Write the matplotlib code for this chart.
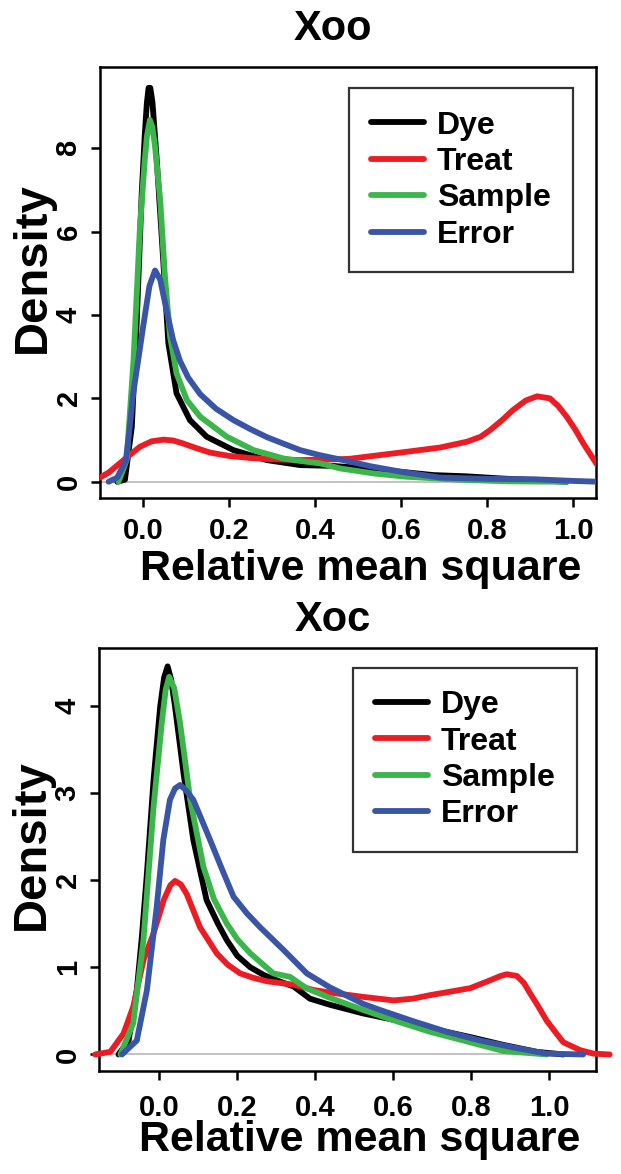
import matplotlib
matplotlib.use("Agg")
import matplotlib.pyplot as plt

plt.rcParams['font.family'] = ['Liberation Sans', 'DejaVu Sans']
plt.rcParams['font.weight'] = 'bold'

# Xoo panel (density curves)
xoo_dye_x = [-0.06, -0.042, -0.026, -0.015, -0.003, 0.004, 0.009, 0.013, 0.017, 0.022, 0.032, 0.047,
             0.059, 0.078, 0.109, 0.148, 0.21, 0.288, 0.365, 0.442, 0.52, 0.598, 0.675, 0.753,
             0.83, 0.908, 0.985]
xoo_dye_y = [0.0, 0.05, 1.32, 3.72, 6.92, 8.3, 9.09, 9.45, 9.45, 9.1, 7.72, 5.32,
             3.32, 2.12, 1.48, 1.08, 0.76, 0.52, 0.4, 0.38, 0.32, 0.24, 0.16, 0.13,
             0.08, 0.04, 0.0]

xoo_treat_x = [-0.1, -0.08, -0.053, -0.03, -0.007, 0.02, 0.047, 0.07, 0.093, 0.12, 0.156, 0.2,
               0.249, 0.3, 0.365, 0.42, 0.48, 0.535, 0.614, 0.69, 0.753, 0.785, 0.807, 0.835,
               0.86, 0.89, 0.916, 0.946, 0.965, 0.985, 1.005, 1.023, 1.053, 1.07]
xoo_treat_y = [0.1, 0.22, 0.45, 0.65, 0.84, 0.97, 1.01, 0.99, 0.92, 0.82, 0.7, 0.62,
               0.57, 0.54, 0.52, 0.53, 0.55, 0.62, 0.72, 0.82, 0.96, 1.08, 1.24, 1.48,
               1.72, 1.95, 2.05, 2.0, 1.82, 1.56, 1.25, 0.93, 0.45, 0.2]

xoo_sample_x = [-0.057, -0.038, -0.022, -0.007, 0.004, 0.009, 0.016, 0.022, 0.028, 0.04, 0.051,
                0.063, 0.078, 0.102, 0.133, 0.195, 0.257, 0.326, 0.365, 0.412, 0.458, 0.536,
                0.613, 0.73, 0.85, 0.985]
xoo_sample_y = [0.0, 0.52, 2.92, 6.12, 7.7, 8.28, 8.68, 8.5, 8.04, 6.76, 4.92,
                3.48, 2.6, 1.96, 1.56, 1.08, 0.76, 0.56, 0.5, 0.44, 0.32, 0.2,
                0.12, 0.05, 0.01, 0.0]

xoo_error_x = [-0.08, -0.06, -0.04, -0.032, -0.023, -0.01, 0.0, 0.015, 0.028, 0.04, 0.055, 0.07,
               0.086, 0.105, 0.133, 0.17, 0.21, 0.25, 0.288, 0.33, 0.365, 0.41, 0.465, 0.53,
               0.6, 0.69, 0.8, 0.91, 1.0, 1.06]
xoo_error_y = [0.0, 0.1, 0.5, 1.2, 2.1, 3.0, 3.7, 4.7, 5.07, 4.85, 4.1, 3.4,
               2.9, 2.5, 2.1, 1.75, 1.48, 1.26, 1.07, 0.9, 0.76, 0.64, 0.52, 0.37,
               0.24, 0.1, 0.07, 0.06, 0.02, 0.0]

# Xoc panel
xoc_dye_x = [-0.105, -0.079, -0.058, -0.045, -0.032, -0.015, 0.002, 0.012, 0.021, 0.03, 0.04,
             0.062, 0.087, 0.121, 0.15, 0.173, 0.2, 0.233, 0.268, 0.301, 0.344, 0.386, 0.437,
             0.523, 0.609, 0.694, 0.797, 0.882, 0.968, 1.036]
xoc_dye_y = [0.0, 0.16, 0.74, 1.35, 2.08, 3.15, 3.99, 4.32, 4.45, 4.3, 3.99,
             3.22, 2.46, 1.77, 1.5, 1.31, 1.13, 1.0, 0.91, 0.85, 0.78, 0.64, 0.57,
             0.47, 0.39, 0.3, 0.2, 0.11, 0.03, 0.0]

xoc_treat_x = [-0.165, -0.126, -0.092, -0.067, -0.041, -0.015, 0.011, 0.028, 0.04, 0.055, 0.07,
               0.104, 0.147, 0.175, 0.207, 0.24, 0.275, 0.344, 0.395, 0.437, 0.523, 0.601,
               0.65, 0.694, 0.797, 0.848, 0.875, 0.891, 0.917, 0.935, 0.951, 0.972, 0.993,
               1.015, 1.036, 1.079, 1.113, 1.155]
xoc_treat_y = [0.0, 0.03, 0.24, 0.55, 1.08, 1.39, 1.77, 1.94, 1.99, 1.95, 1.84,
               1.46, 1.16, 1.03, 0.93, 0.88, 0.84, 0.8, 0.74, 0.71, 0.66, 0.62,
               0.64, 0.68, 0.76, 0.85, 0.9, 0.92, 0.9, 0.82, 0.7, 0.55, 0.39,
               0.26, 0.14, 0.05, 0.01, 0.0]

xoc_sample_x = [-0.1, -0.067, -0.041, -0.015, 0.006, 0.016, 0.025, 0.038, 0.053, 0.079, 0.113,
                0.14, 0.173, 0.2, 0.233, 0.292, 0.335, 0.377, 0.437, 0.523, 0.609, 0.694,
                0.797, 0.882, 0.993]
xoc_sample_y = [0.0, 0.36, 1.31, 2.84, 3.8, 4.18, 4.33, 4.2, 3.8, 2.92, 2.15,
                1.78, 1.5, 1.32, 1.16, 0.93, 0.89, 0.76, 0.65, 0.51, 0.38, 0.26,
                0.14, 0.04, 0.0]

xoc_error_x = [-0.096, -0.058, -0.032, -0.007, 0.01, 0.027, 0.04, 0.053, 0.068, 0.087, 0.13,
               0.16, 0.19, 0.224, 0.258, 0.318, 0.378, 0.437, 0.523, 0.566, 0.652, 0.737,
               0.823, 0.908, 0.993, 1.087]
xoc_error_y = [0.0, 0.16, 0.74, 1.69, 2.46, 2.92, 3.05, 3.09, 3.03, 2.92, 2.46,
               2.13, 1.81, 1.62, 1.46, 1.2, 0.93, 0.77, 0.58, 0.51, 0.38, 0.26,
               0.16, 0.08, 0.01, 0.0]

labels = ['Dye', 'Treat', 'Sample', 'Error']
colors = ['black', '#ec1c24', '#3cb64a', '#3a55a5']

x_ticks = [0.0, 0.2, 0.4, 0.6, 0.8, 1.0]
x_ticklabels = ['0.0', '0.2', '0.4', '0.6', '0.8', '1.0']

fig = plt.figure(figsize=(6.21, 11.74), dpi=100)
ax1 = fig.add_axes([0.161, 0.5758, 0.7987, 0.3671])
ax2 = fig.add_axes([0.1594, 0.0877, 0.7998, 0.3603])


def draw_panel(ax, curves, title, xlim, ylim, yticks, title_pad, tick_pad, clip, leg_anchor):
    ax.axhline(0, color='#bdbdbd', lw=1.3, zorder=1)
    for (xs, ys), lab, col in zip(curves, labels, colors):
        ax.plot(xs, ys, color=col, lw=4.2, label=lab, solid_capstyle='round',
                solid_joinstyle='round', clip_on=clip, zorder=3)
    ax.set_xlim(xlim)
    ax.set_ylim(ylim)
    ax.set_xticks(x_ticks)
    ax.set_xticklabels(x_ticklabels)
    ax.set_yticks(yticks)
    ax.set_yticklabels([str(t) for t in yticks], rotation=90, va='center')
    ax.tick_params(axis='both', labelsize=21, length=6.5, width=1.8, direction='out')
    ax.tick_params(axis='x', pad=tick_pad)
    ax.tick_params(axis='y', pad=6)
    for s in ax.spines.values():
        s.set_linewidth(1.8)
    ax.set_title(title, fontsize=30, fontweight='bold', x=0.47, pad=title_pad)
    ax.set_xlabel('Relative mean square', fontsize=31, fontweight='bold')
    ax.xaxis.set_label_coords(0.525, -0.19)
    ax.xaxis.label.set_va('baseline')
    ax.set_ylabel('Density', fontsize=34, fontweight='bold')
    ax.yaxis.set_label_coords(-0.135, 0.535)
    ax.yaxis.label.set_va('center')
    leg = ax.legend(loc='upper left', bbox_to_anchor=leg_anchor, fontsize=23,
                    frameon=True, fancybox=False, edgecolor='black', borderaxespad=0,
                    handlelength=1.65, handletextpad=0.4, labelspacing=0.2,
                    borderpad=0.7)
    leg.get_frame().set_linewidth(1.6)
    for ln in leg.get_lines():
        ln.set_linewidth(4.2)


draw_panel(ax1, [(xoo_dye_x, xoo_dye_y), (xoo_treat_x, xoo_treat_y),
                 (xoo_sample_x, xoo_sample_y), (xoo_error_x, xoo_error_y)],
           'Xoo', (-0.1, 1.053), (-0.39, 9.95), [0, 2, 4, 6, 8], 19.5, 7, True,
           (0.502, 0.951))
draw_panel(ax2, [(xoc_dye_x, xoc_dye_y), (xoc_treat_x, xoc_treat_y),
                 (xoc_sample_x, xoc_sample_y), (xoc_error_x, xoc_error_y)],
           'Xoc', (-0.155, 1.119), (-0.19, 4.66), [0, 1, 2, 3, 4], 12.5, 10, False,
           (0.511, 0.953))

fig.savefig('out.png', dpi=100)
